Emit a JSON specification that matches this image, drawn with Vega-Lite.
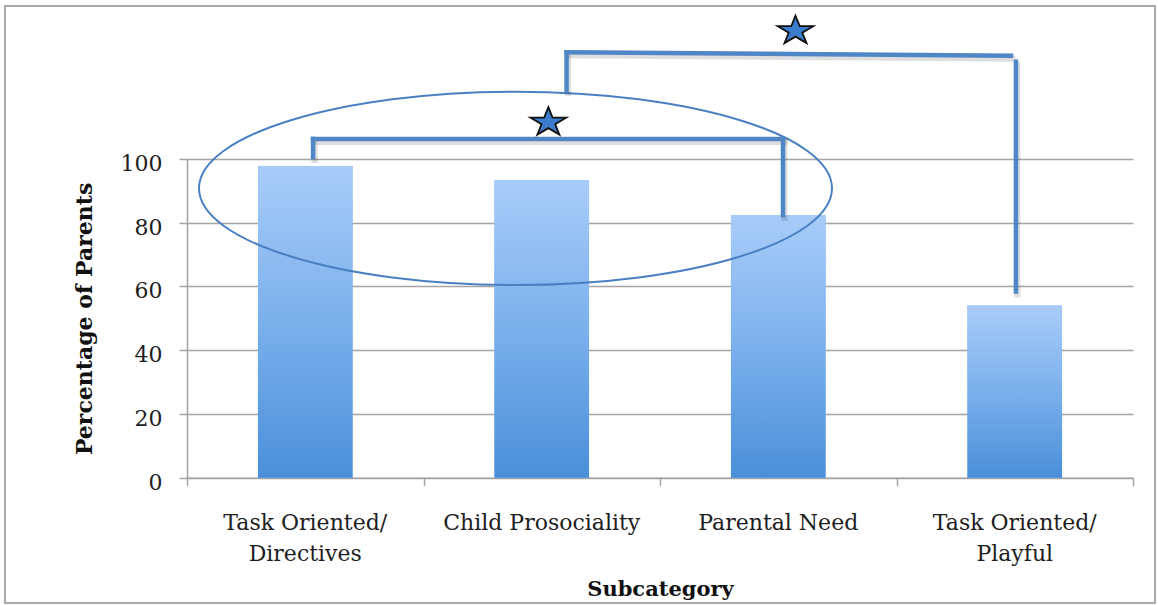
{
  "$schema": "https://vega.github.io/schema/vega-lite/v6.json",
  "width": 946,
  "height": 318.7,
  "autosize": {"type": "none"},
  "padding": {"left": 187, "top": 159, "right": 25, "bottom": 127.3},
  "background": "white",
  "config": {"view": {"stroke": "transparent", "fill": "transparent"}, "font": "DejaVu Serif"},
  "datasets": {
    "bars": [
      {"subcategory": "Task Oriented/\nDirectives", "pct": 97.8},
      {"subcategory": "Child Prosociality", "pct": 93.3},
      {"subcategory": "Parental Need", "pct": 82.4},
      {"subcategory": "Task Oriented/\nPlayful", "pct": 54.0}
    ],
    "brackets": [
      {"x": 1.033, "x2": 1.033, "v": 100.6, "v2": 106.3},
      {"x": 1.033, "x2": 3.02, "v": 106.3, "v2": 106.3},
      {"x": 3.02, "x2": 3.02, "v": 106.3, "v2": 82.4},
      {"x": 2.105, "x2": 2.105, "v": 121.7, "v2": 133.5},
      {"x": 2.105, "x2": 3.984, "v": 133.5, "v2": 132.4},
      {"x": 4.005, "x2": 4.005, "v": 130.5, "v2": 58.4}
    ],
    "stars": [
      {"x": 2.028, "v": 111.5},
      {"x": 3.073, "v": 140.2}
    ],
    "ellipse": [
      {"x": 1.889, "v": 90.8}
    ],
    "frame": [
      {"x": -0.2696, "x2": 4.593, "v": 148.0, "v2": -39.3}
    ]
  },
  "layer": [
    {
      "data": {"name": "bars"},
      "transform": [{"window": [{"op": "row_number", "as": "slot"}]}],
      "mark": {"type": "bar", "width": 94.6, "color": "#78adea"},
      "encoding": {
        "x": {
          "field": "slot",
          "type": "quantitative",
          "scale": {"domain": [0.5, 4.5], "nice": false, "zero": false, "padding": 0},
          "axis": {
            "orient": "bottom",
            "title": "Subcategory",
            "values": [0.5, 1.5, 2.5, 3.5, 4.5],
            "labels": false,
            "grid": false,
            "domainColor": "#a4a4a4",
            "domainWidth": 1.5,
            "tickColor": "#a4a4a4",
            "tickWidth": 1.5,
            "tickSize": 8,
            "titleFont": "DejaVu Serif",
            "titleFontSize": 21,
            "titleFontWeight": "bold",
            "titleColor": "#111111",
            "titleY": 117.3,
            "titleBaseline": "alphabetic"
          }
        },
        "y": {
          "field": "pct",
          "type": "quantitative",
          "stack": null,
          "scale": {"domain": [0, 100], "nice": false},
          "axis": {
            "title": "Percentage of Parents",
            "values": [0, 20, 40, 60, 80, 100],
            "grid": true,
            "gridColor": "#a4a4a4",
            "gridWidth": 1.5,
            "domainColor": "#a4a4a4",
            "domainWidth": 1.5,
            "tickColor": "#a4a4a4",
            "tickWidth": 1.5,
            "tickSize": 8,
            "labelFont": "DejaVu Serif",
            "labelFontSize": 22,
            "labelColor": "#1e1e1e",
            "labelPadding": 17,
            "labelBaseline": "alphabetic",
            "labelOffset": 11.5,
            "titleFont": "DejaVu Serif",
            "titleFontSize": 22,
            "titleFontWeight": "bold",
            "titleColor": "#111111",
            "titleX": -95.5,
            "titleY": 159.35,
            "titleAngle": 270,
            "titleAlign": "center",
            "titleBaseline": "alphabetic"
          }
        },
        "y2": {"datum": 0}
      }
    },
    {
      "data": {"name": "bars"},
      "transform": [{"window": [{"op": "row_number", "as": "slot"}]}],
      "mark": {
        "type": "bar",
        "width": 94.6,
        "fill": {
          "gradient": "linear",
          "x1": 0, "y1": 0, "x2": 0, "y2": 1,
          "stops": [
            {"offset": 0, "color": "#a8ccf9"},
            {"offset": 0.5, "color": "#7bb0ec"},
            {"offset": 1, "color": "#4a8fd9"}
          ]
        }
      },
      "encoding": {
        "x": {"field": "slot", "type": "quantitative", "scale": {"domain": [0.5, 4.5], "nice": false, "zero": false, "padding": 0}, "axis": null},
        "y": {"field": "pct", "type": "quantitative", "stack": null, "scale": {"domain": [0, 100], "nice": false}, "axis": null},
        "y2": {"datum": 0}
      }
    },
    {
      "data": {"name": "bars"},
      "transform": [{"window": [{"op": "row_number", "as": "slot"}]}],
      "mark": {
        "type": "text",
        "font": "DejaVu Serif",
        "fontSize": 22,
        "color": "#1e1e1e",
        "align": "center",
        "baseline": "alphabetic",
        "dy": 52.3,
        "lineHeight": 31,
        "lineBreak": "\n"
      },
      "encoding": {
        "x": {"field": "slot", "type": "quantitative", "scale": {"domain": [0.5, 4.5], "nice": false, "zero": false, "padding": 0}, "axis": null},
        "y": {"datum": 0, "type": "quantitative", "scale": {"domain": [0, 100], "nice": false}, "axis": null},
        "text": {"field": "subcategory", "type": "nominal"}
      }
    },
    {
      "data": {"name": "frame"},
      "mark": {"type": "rect", "fillOpacity": 0, "stroke": "#a9a9a9", "strokeWidth": 2},
      "encoding": {
        "x": {"field": "x", "type": "quantitative", "scale": {"domain": [0.5, 4.5], "nice": false, "zero": false, "padding": 0}, "axis": null},
        "x2": {"field": "x2"},
        "y": {"field": "v", "type": "quantitative", "scale": {"domain": [0, 100], "nice": false}, "axis": null},
        "y2": {"field": "v2"}
      }
    },
    {
      "data": {"name": "ellipse"},
      "mark": {
        "type": "point",
        "shape": "M -1 0 C -1 -0.1687 -0.5523 -0.3055 0 -0.3055 C 0.5523 -0.3055 1 -0.1687 1 0 C 1 0.1687 0.5523 0.3055 0 0.3055 C -0.5523 0.3055 -1 0.1687 -1 0 Z",
        "size": 400689,
        "filled": false,
        "stroke": "#4a80c2",
        "strokeWidth": 2,
        "opacity": 1
      },
      "encoding": {
        "x": {"field": "x", "type": "quantitative", "scale": {"domain": [0.5, 4.5], "nice": false, "zero": false, "padding": 0}, "axis": null},
        "y": {"field": "v", "type": "quantitative", "scale": {"domain": [0, 100], "nice": false}, "axis": null}
      }
    },
    {
      "data": {"name": "brackets"},
      "mark": {"type": "rule", "stroke": "#000000", "strokeOpacity": 0.13, "strokeWidth": 6, "strokeCap": "square", "xOffset": 1.5, "x2Offset": 1.5, "yOffset": 3, "y2Offset": 3},
      "encoding": {
        "x": {"field": "x", "type": "quantitative", "scale": {"domain": [0.5, 4.5], "nice": false, "zero": false, "padding": 0}, "axis": null},
        "x2": {"field": "x2"},
        "y": {"field": "v", "type": "quantitative", "scale": {"domain": [0, 100], "nice": false}, "axis": null},
        "y2": {"field": "v2"}
      }
    },
    {
      "data": {"name": "brackets"},
      "mark": {"type": "rule", "stroke": "#4f86c6", "strokeWidth": 4.5, "strokeCap": "square"},
      "encoding": {
        "x": {"field": "x", "type": "quantitative", "scale": {"domain": [0.5, 4.5], "nice": false, "zero": false, "padding": 0}, "axis": null},
        "x2": {"field": "x2"},
        "y": {"field": "v", "type": "quantitative", "scale": {"domain": [0, 100], "nice": false}, "axis": null},
        "y2": {"field": "v2"}
      }
    },
    {
      "data": {"name": "stars"},
      "mark": {
        "type": "point",
        "shape": "M 0 -0.81 L 0.2245 -0.25 L 0.951 -0.25 L 0.363 0.096 L 0.588 0.655 L 0 0.309 L -0.588 0.655 L -0.363 0.096 L -0.951 -0.25 L -0.2245 -0.25 Z",
        "size": 1400,
        "filled": true,
        "fill": "#3b7ccc",
        "stroke": "#111111",
        "strokeWidth": 1.8,
        "opacity": 1
      },
      "encoding": {
        "x": {"field": "x", "type": "quantitative", "scale": {"domain": [0.5, 4.5], "nice": false, "zero": false, "padding": 0}, "axis": null},
        "y": {"field": "v", "type": "quantitative", "scale": {"domain": [0, 100], "nice": false}, "axis": null}
      }
    }
  ],
  "resolve": {
    "axis": {"x": "independent", "y": "independent"}
  }
}
